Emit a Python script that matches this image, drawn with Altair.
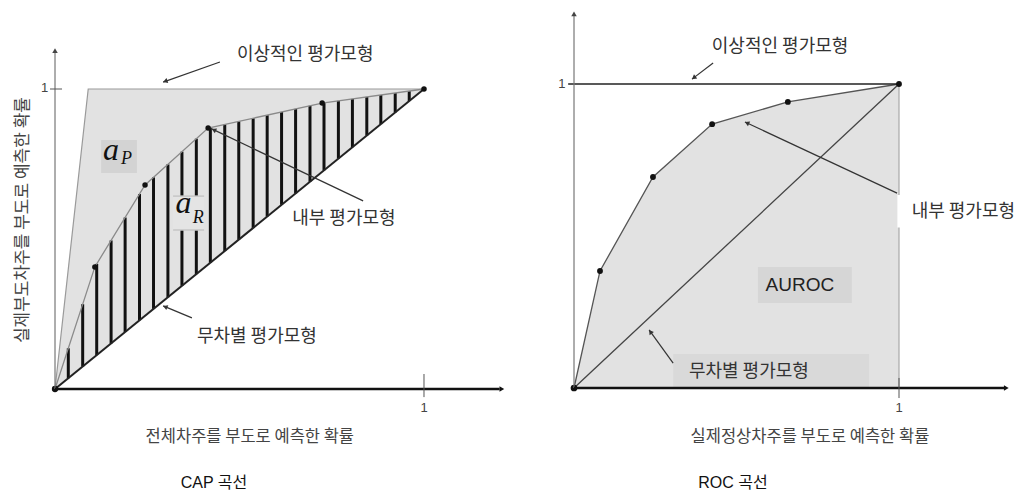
import math
import altair as alt
import pandas as pd

# ---------------- data ----------------
# CAP curve (left)
cap_x = [0.0, 0.108, 0.244, 0.415, 0.724, 1.0]
cap_y = [0.0, 0.407, 0.680, 0.870, 0.953, 1.0]
cap_ideal_x = [0.0, 0.09, 1.0]
cap_ideal_y = [0.0, 1.0, 1.0]
hatch_x = [0.036, 0.075, 0.113, 0.152, 0.190, 0.229, 0.267, 0.306, 0.344,
           0.383, 0.421, 0.460, 0.498, 0.537, 0.575, 0.614, 0.652, 0.691,
           0.729, 0.768, 0.806, 0.845, 0.883, 0.922, 0.960]

# ROC curve (right)
roc_x = [0.0, 0.080, 0.243, 0.425, 0.658, 1.0]
roc_y = [0.0, 0.385, 0.694, 0.868, 0.941, 1.0]

# labels
lab_ideal = "이상적인 평가모형"
lab_inner = "내부 평가모형"
lab_random = "무차별 평가모형"
cap_xtitle = "전체차주를 부도로 예측한 확률"
cap_ytitle = "실제부도차주를 부도로 예측한 확률"
roc_xtitle = "실제정상차주를 부도로 예측한 확률"
cap_name = "CAP 곡선"
roc_name = "ROC 곡선"

W, H = 504, 480
L_XD, L_YD = [-0.1274, 1.2385], [-0.33, 1.27]
R_XD, R_YD = [-0.1908, 1.36], [-0.3289, 1.25]

KFONT = "Noto Sans CJK KR"
TXT = "#333333"


def interp(x, xs, ys):
    for i in range(len(xs) - 1):
        if xs[i] <= x <= xs[i + 1]:
            t = (x - xs[i]) / (xs[i + 1] - xs[i])
            return ys[i] + t * (ys[i + 1] - ys[i])
    return ys[-1]


class P:
    def __init__(self, xd, yd):
        self.xd, self.yd = xd, yd
        self.layers = []
        self.sx = W / (xd[1] - xd[0])
        self.sy = H / (yd[1] - yd[0])

    def X(self, f):
        return alt.X(f, type="quantitative", axis=None,
                     scale=alt.Scale(domain=self.xd, nice=False, zero=False))

    def Y(self, f):
        return alt.Y(f, type="quantitative", axis=None,
                     scale=alt.Scale(domain=self.yd, nice=False, zero=False))

    def rules(self, segs, color, width, dash=None):
        df = pd.DataFrame(segs, columns=["x0", "y0", "x1", "y1"])
        kw = dict(color=color, strokeWidth=width)
        if dash:
            kw["strokeDash"] = dash
        self.layers.append(alt.Chart(df).mark_rule(**kw).encode(
            x=self.X("x0"), y=self.Y("y0"), x2="x1", y2="y1"))

    def line(self, xs, ys, color, width):
        df = pd.DataFrame({"x": xs, "y": ys, "o": list(range(len(xs)))})
        self.layers.append(alt.Chart(df).mark_line(color=color, strokeWidth=width).encode(
            x=self.X("x"), y=self.Y("y"), order="o:Q"))

    def area(self, xs, ys, y2s, color):
        df = pd.DataFrame({"x": xs, "y": ys, "y2": y2s})
        self.layers.append(alt.Chart(df).mark_area(color=color, opacity=1).encode(
            x=self.X("x"), y=self.Y("y"), y2="y2"))

    def rect(self, x0, x1, y0, y1, color):
        df = pd.DataFrame({"x0": [x0], "x1": [x1], "y0": [y0], "y1": [y1]})
        self.layers.append(alt.Chart(df).mark_rect(color=color, opacity=1).encode(
            x=self.X("x0"), x2="x1", y=self.Y("y0"), y2="y1"))

    def dots(self, xs, ys, size, color="#111111"):
        df = pd.DataFrame({"x": xs, "y": ys})
        self.layers.append(alt.Chart(df).mark_point(filled=True, size=size, color=color, opacity=1).encode(
            x=self.X("x"), y=self.Y("y")))

    def heads(self, arrows, size, color):
        rows = []
        for (x0, y0, x1, y1) in arrows:
            dx = (x1 - x0) * self.sx
            dy = -(y1 - y0) * self.sy
            ln = math.hypot(dx, dy)
            ang = math.degrees(math.atan2(dx, -dy)) % 360
            hx = x1 - (dx / ln) * 3 / self.sx
            hy = y1 + (dy / ln) * 3 / self.sy
            rows.append({"x": hx, "y": hy, "a": ang})
        df = pd.DataFrame(rows)
        self.layers.append(alt.Chart(df).mark_point(shape="triangle", filled=True, size=size,
                                                    color=color, opacity=1).encode(
            x=self.X("x"), y=self.Y("y"), angle=alt.Angle("a:Q", scale=None)))

    def arrows(self, arrows, color="#333333", width=1.2, size=28):
        self.rules(arrows, color, width)
        self.heads(arrows, size, color)

    def text(self, x, y, t, size, font=KFONT, color=TXT, align="center",
             baseline="middle", angle=0, style="normal", weight="normal"):
        df = pd.DataFrame({"x": [x], "y": [y], "t": [t]})
        kw = dict(font=font, fontSize=size, color=color, align=align,
                  baseline=baseline, fontStyle=style, fontWeight=weight)
        if angle:
            kw["angle"] = angle
        self.layers.append(alt.Chart(df).mark_text(**kw).encode(
            x=self.X("x"), y=self.Y("y"), text="t:N"))

    def chart(self):
        return alt.layer(*self.layers).properties(width=W, height=H)


# ---------------- left: CAP ----------------
L = P(L_XD, L_YD)
L.area(cap_ideal_x, cap_ideal_y, [0.0, 0.09, 1.0], "#e2e2e2")
L.rect(0.125, 0.222, 0.72, 0.83, "#d3d3d3")
L.rules([(hx, hx, hx, interp(hx, cap_x, cap_y)) for hx in hatch_x], "#111111", 3)
L.rect(0.32, 0.404, 0.53, 0.643, "#e4e4e4")
L.rules([(0.32, 0.643, 0.404, 0.643), (0.32, 0.53, 0.404, 0.53)], "#c6c6c6", 1.5)
L.line(cap_ideal_x, cap_ideal_y, "#9a9a9a", 1.2)
L.line(cap_x, cap_y, "#8a8a8a", 1.3)
L.rules([(0, 0, 1, 1)], "#222222", 2)
L.dots(cap_x[1:], cap_y[1:], 30)
L.dots([0], [0], 40)
# axes
L.rules([(0, 0, 0, 1.12)], "#777777", 1.2)
L.rules([(0, 0, 1.205, 0)], "#111111", 2.5)
L.rules([(1, 0.05, 1, -0.027), (-0.0135, 1, 0.019, 1)], "#555555", 1)
L.heads([(0, 1.0, 0, 1.135)], 30, "#444444")
L.heads([(1.1, 0, 1.217, 0)], 30, "#111111")
L.text(-0.028, 1.003, "1", 13, font="Liberation Sans", color="#444444")
L.text(1.0, -0.063, "1", 13, font="Liberation Sans", color="#444444")
# annotations
L.arrows([(0.447, 1.09, 0.293, 1.023), (0.835, 0.627, 0.425, 0.867),
          (0.371, 0.237, 0.293, 0.277)])
L.text(0.678, 1.113, lab_ideal, 18)
L.text(0.783, 0.567, lab_inner, 18)
L.text(0.547, 0.173, lab_random, 18)
L.text(0.152, 0.763, "a", 32, font="Liberation Serif", color="#111111", baseline="alphabetic", style="italic")
L.text(0.194, 0.750, "P", 18, font="Liberation Serif", color="#111111", baseline="alphabetic", style="italic")
L.text(0.348, 0.587, "a", 32, font="Liberation Serif", color="#111111", baseline="alphabetic", style="italic")
L.text(0.388, 0.555, "R", 18, font="Liberation Serif", color="#111111", baseline="alphabetic", style="italic")
L.text(-0.0867, 0.563, cap_ytitle, 17, color="#444444", angle=270)
L.text(0.528, -0.16, cap_xtitle, 16.5, color="#444444")
L.text(0.431, -0.313, cap_name, 16, font="Liberation Sans, " + KFONT, color="#111111")

# ---------------- right: ROC ----------------
R = P(R_XD, R_YD)
R.area(roc_x, roc_y, [0] * len(roc_x), "#e2e2e2")
R.rules([(1, 0, 1, 1)], "#a8a8a8", 1.2)
R.rect(0.566, 0.855, 0.28, 0.398, "#d6d6d6")
R.rect(0.305, 0.908, 0.003, 0.112, "#d9d9d9")
R.rect(0.995, 1.36, 0.528, 0.635, "#ffffff")
R.rules([(0, 0, 1, 1)], "#444444", 1.3)
R.line(roc_x, roc_y, "#555555", 1.3)
R.rules([(-0.018, 1, 1, 1)], "#222222", 1.6)
R.dots(roc_x[1:], roc_y[1:], 34)
R.dots([0], [0], 45)
# axes
R.rules([(0, 0, 0, 1.225)], "#777777", 1.2)
R.rules([(0, 0, 1.325, 0)], "#111111", 2.5)
R.rules([(1, 0.033, 1, -0.033)], "#555555", 1)
R.heads([(0, 1.1, 0, 1.238)], 30, "#444444")
R.heads([(1.2, 0, 1.337, 0)], 30, "#111111")
R.text(-0.037, 1.0, "1", 13, font="Liberation Sans", color="#444444")
R.text(1.0, -0.066, "1", 13, font="Liberation Sans", color="#444444")
# annotations
R.arrows([(0.428, 1.069, 0.363, 1.016), (0.994, 0.641, 0.526, 0.875),
          (0.305, 0.082, 0.231, 0.191)])
R.text(0.634, 1.122, lab_ideal, 18)
R.text(1.198, 0.579, lab_inner, 18)
R.text(0.538, 0.053, lab_random, 18)
R.text(0.695, 0.339, "AUROC", 19, font="Liberation Sans", color="#222222")
R.text(0.726, -0.161, roc_xtitle, 16.5, color="#444444")
R.text(0.489, -0.3125, roc_name, 16, font="Liberation Sans, " + KFONT, color="#111111")

chart = alt.hconcat(L.chart(), R.chart(), spacing=0).configure(
    padding=0).configure_view(stroke=None).properties(background="white")

chart.save("out.html", embed_options={"renderer": "svg", "actions": False})
